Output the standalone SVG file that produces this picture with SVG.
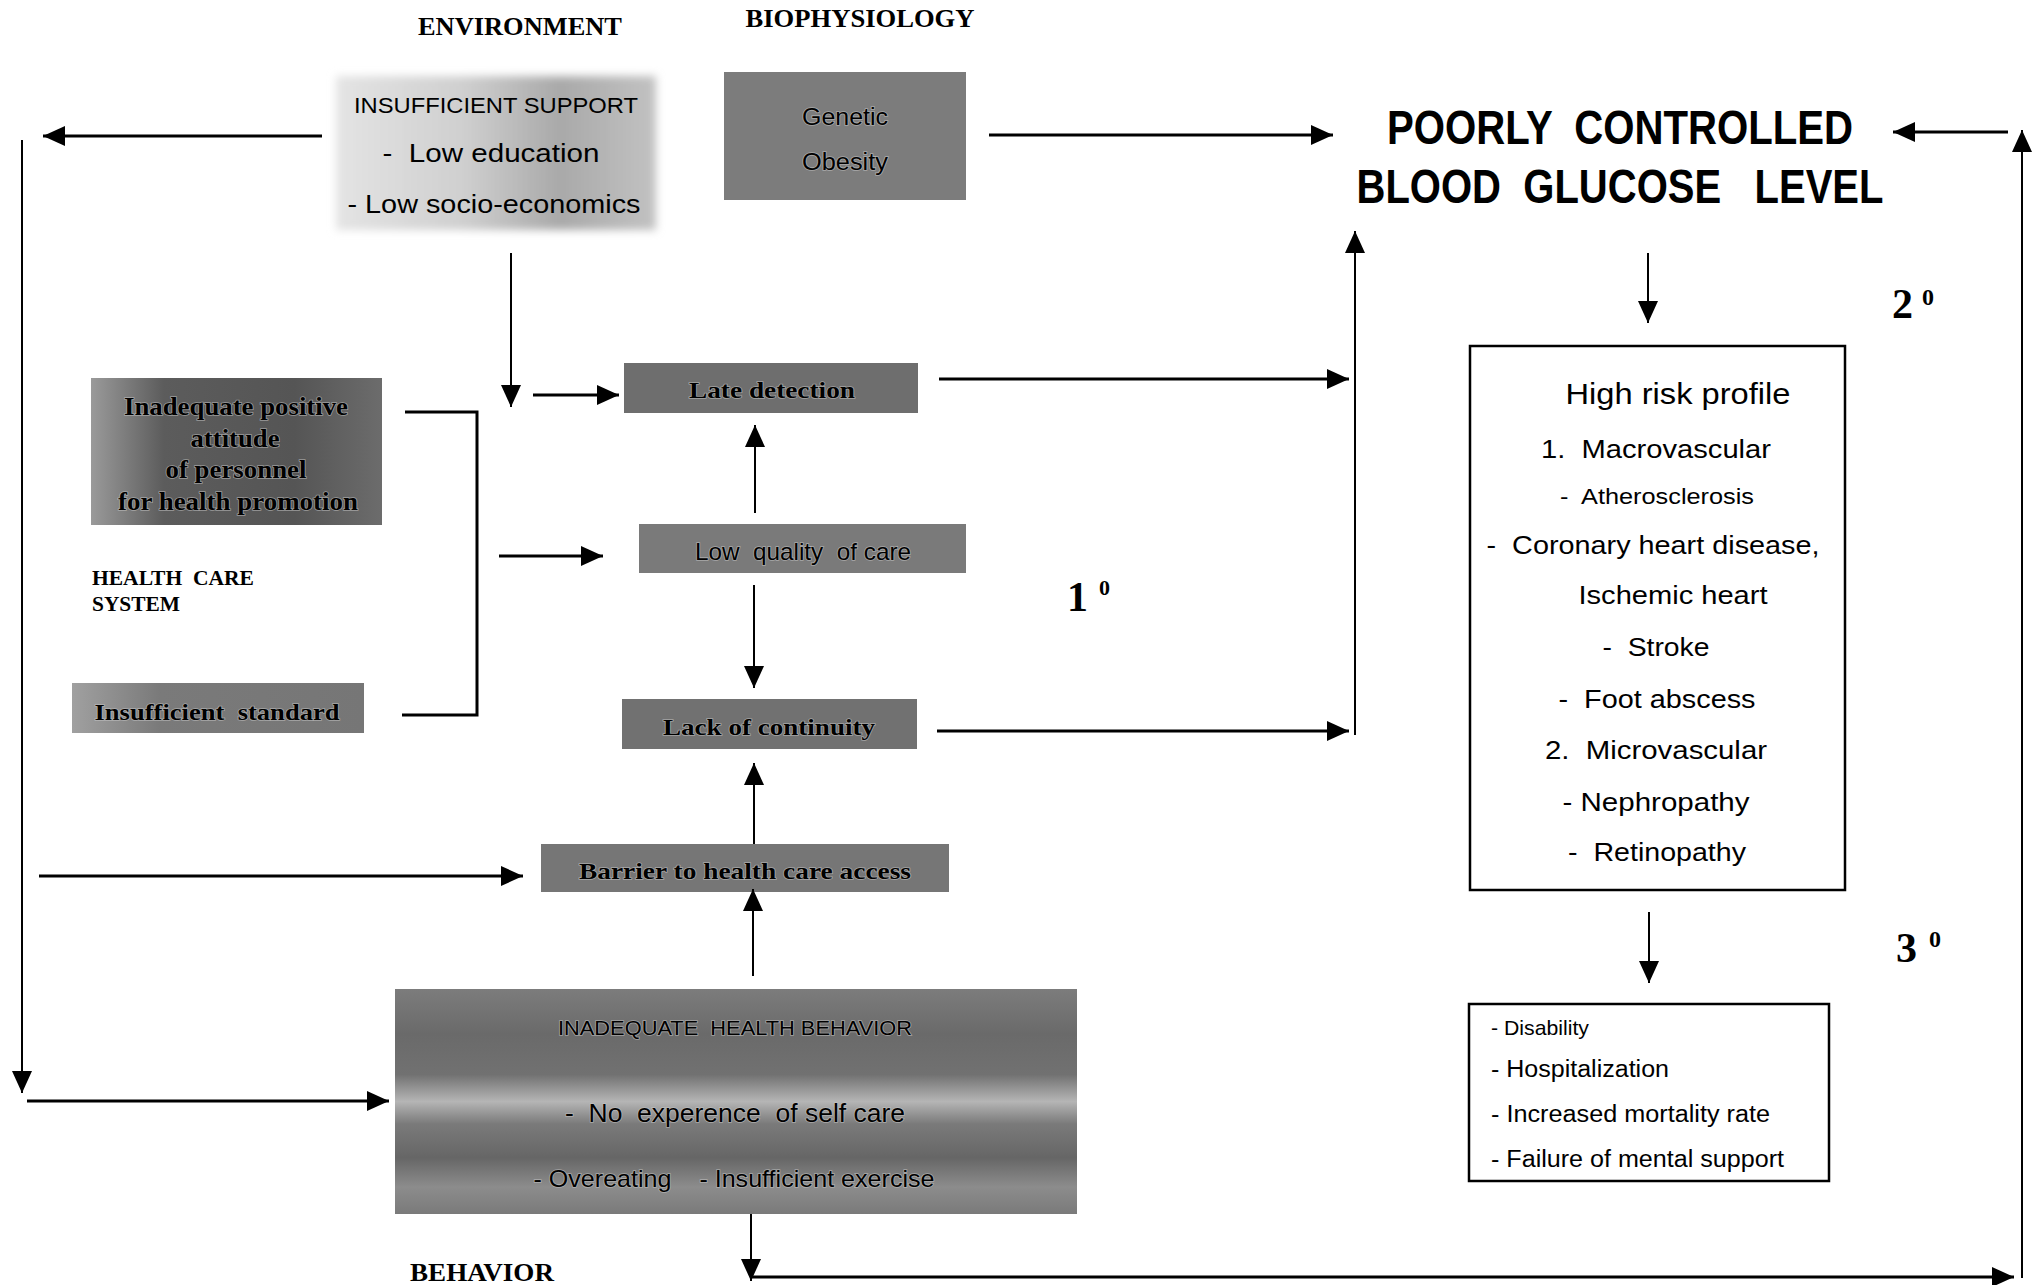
<svg xmlns="http://www.w3.org/2000/svg" width="2033" height="1285" viewBox="0 0 2033 1285">
<style>
text{white-space:pre}
.serifb{font-family:"Liberation Serif","Times New Roman",serif;font-weight:bold;fill:#000}
.sans{font-family:"Liberation Sans",Arial,sans-serif;fill:#000}
.sansb{font-family:"Liberation Sans",Arial,sans-serif;font-weight:bold;fill:#000}
.halo{paint-order:stroke;stroke:#c8c8c8;stroke-width:1.6px;stroke-opacity:0.6}
.ln{stroke:#000;stroke-width:3;fill:none}
.thin{stroke:#000;stroke-width:2;fill:none}
.box{fill:#fff;stroke:#000;stroke-width:2.5}
.m{text-anchor:middle}
</style>
<defs>
<marker id="ah" markerUnits="userSpaceOnUse" markerWidth="24" markerHeight="22" refX="22" refY="10" orient="auto">
<path d="M0,0 L22,10 L0,20 z" fill="#000"/>
</marker>
<linearGradient id="gSupport" x1="0" y1="0" x2="1" y2="0">
<stop offset="0" stop-color="#e4e4e4"/>
<stop offset="0.4" stop-color="#cfcfcf"/>
<stop offset="0.7" stop-color="#a9a9a9"/>
<stop offset="1" stop-color="#c2c2c2"/>
</linearGradient>
<linearGradient id="gAtt" x1="0" y1="0" x2="1" y2="0">
<stop offset="0" stop-color="#9a9a9a"/>
<stop offset="0.25" stop-color="#5c5c5c"/>
<stop offset="0.7" stop-color="#555"/>
<stop offset="1" stop-color="#6c6c6c"/>
</linearGradient>
<linearGradient id="gStd" x1="0" y1="0" x2="1" y2="0">
<stop offset="0" stop-color="#a0a0a0"/>
<stop offset="0.3" stop-color="#7a7a7a"/>
<stop offset="1" stop-color="#767676"/>
</linearGradient>
<linearGradient id="gBeh" x1="0" y1="0" x2="0" y2="1">
<stop offset="0" stop-color="#7c7c7c"/>
<stop offset="0.2" stop-color="#6a6a6a"/>
<stop offset="0.38" stop-color="#717171"/>
<stop offset="0.5" stop-color="#b5b5b5"/>
<stop offset="0.6" stop-color="#7a7a7a"/>
<stop offset="0.75" stop-color="#666"/>
<stop offset="0.88" stop-color="#8c8c8c"/>
<stop offset="1" stop-color="#7a7a7a"/>
</linearGradient>
<filter id="soft" x="-10%" y="-10%" width="120%" height="120%">
<feGaussianBlur stdDeviation="4"/>
</filter>
</defs>

<g id="title-environment"><text class="serifb m" x="520" y="35" font-size="25" textLength="204" lengthAdjust="spacingAndGlyphs">ENVIRONMENT</text></g>
<g id="title-biophysiology"><text class="serifb m" x="860" y="27" font-size="25" textLength="229" lengthAdjust="spacingAndGlyphs">BIOPHYSIOLOGY</text></g>

<g id="node-insufficient-support">
<rect x="336" y="76" width="320" height="154" fill="url(#gSupport)" filter="url(#soft)"/>
<text class="sans m" x="496" y="113" font-size="22" textLength="284" lengthAdjust="spacingAndGlyphs">INSUFFICIENT SUPPORT</text>
<text class="sans m" x="491" y="162" font-size="25" textLength="217" lengthAdjust="spacingAndGlyphs">-  Low education</text>
<text class="sans m" x="494" y="213" font-size="25" textLength="293" lengthAdjust="spacingAndGlyphs">- Low socio-economics</text>
</g>

<g id="node-biophysiology">
<rect x="724" y="72" width="242" height="128" fill="#7c7c7c"/>
<text class="sans m halo" x="845" y="125" font-size="23" textLength="86" lengthAdjust="spacingAndGlyphs">Genetic</text>
<text class="sans m halo" x="845" y="170" font-size="23" textLength="86" lengthAdjust="spacingAndGlyphs">Obesity</text>
</g>

<g id="node-poorly-controlled">
<text class="sansb m" x="1620" y="144" font-size="49" textLength="466" lengthAdjust="spacingAndGlyphs">POORLY  CONTROLLED</text>
<text class="sansb m" x="1620" y="203" font-size="49" textLength="527" lengthAdjust="spacingAndGlyphs">BLOOD  GLUCOSE   LEVEL</text>
</g>

<g id="node-attitude">
<rect x="91" y="378" width="291" height="147" fill="url(#gAtt)"/>
<text class="serifb m halo" x="236" y="415" font-size="25" textLength="224" lengthAdjust="spacingAndGlyphs">Inadequate positive</text>
<text class="serifb m halo" x="235" y="447" font-size="25" textLength="89" lengthAdjust="spacingAndGlyphs">attitude</text>
<text class="serifb m halo" x="236" y="478" font-size="25" textLength="141" lengthAdjust="spacingAndGlyphs">of personnel</text>
<text class="serifb m halo" x="238" y="510" font-size="25" textLength="240" lengthAdjust="spacingAndGlyphs">for health promotion</text>
</g>

<g id="label-health-care-system">
<text class="serifb" x="92" y="585" font-size="20" textLength="162" lengthAdjust="spacingAndGlyphs">HEALTH  CARE</text>
<text class="serifb" x="92" y="611" font-size="20" textLength="88" lengthAdjust="spacingAndGlyphs">SYSTEM</text>
</g>

<g id="node-standard">
<rect x="72" y="683" width="292" height="50" fill="url(#gStd)"/>
<text class="serifb m halo" x="217" y="720" font-size="24" textLength="245" lengthAdjust="spacingAndGlyphs">Insufficient  standard</text>
</g>

<g id="node-late-detection">
<rect x="624" y="363" width="294" height="50" fill="#6e6e6e"/>
<text class="serifb m halo" x="772" y="398" font-size="24" textLength="166" lengthAdjust="spacingAndGlyphs">Late detection</text>
</g>

<g id="node-low-quality">
<rect x="639" y="524" width="327" height="49" fill="#7a7a7a"/>
<text class="sans m halo" x="803" y="560" font-size="24" textLength="216" lengthAdjust="spacingAndGlyphs">Low  quality  of care</text>
</g>

<g id="node-continuity">
<rect x="622" y="699" width="295" height="50" fill="#717171"/>
<text class="serifb m halo" x="769" y="735" font-size="24" textLength="212" lengthAdjust="spacingAndGlyphs">Lack of continuity</text>
</g>

<g id="node-barrier">
<rect x="541" y="844" width="408" height="48" fill="#767676"/>
<text class="serifb m halo" x="745" y="879" font-size="24" textLength="332" lengthAdjust="spacingAndGlyphs">Barrier to health care access</text>
</g>

<g id="node-behavior">
<rect x="395" y="989" width="682" height="225" fill="url(#gBeh)"/>
<text class="sans m halo" x="735" y="1035" font-size="20" textLength="354" lengthAdjust="spacingAndGlyphs">INADEQUATE  HEALTH BEHAVIOR</text>
<text class="sans m halo" x="735" y="1122" font-size="26" textLength="340" lengthAdjust="spacingAndGlyphs">-  No  experence  of self care</text>
<text class="sans m halo" x="734" y="1187" font-size="24" textLength="401" lengthAdjust="spacingAndGlyphs">- Overeating    - Insufficient exercise</text>
</g>

<g id="label-behavior"><text class="serifb" x="410" y="1281" font-size="25" textLength="144" lengthAdjust="spacingAndGlyphs">BEHAVIOR</text></g>

<g id="label-1"><text class="serifb" x="1067" y="611" font-size="42">1</text><text class="serifb" x="1099" y="595" font-size="22">0</text></g>
<g id="label-2"><text class="serifb" x="1892" y="318" font-size="42">2</text><text class="serifb" x="1922" y="305" font-size="24">0</text></g>
<g id="label-3"><text class="serifb" x="1896" y="962" font-size="42">3</text><text class="serifb" x="1929" y="947" font-size="24">0</text></g>

<g id="node-high-risk">
<rect class="box" x="1470" y="346" width="375" height="544"/>
<text class="sans m" x="1678" y="404" font-size="30" textLength="225" lengthAdjust="spacingAndGlyphs">High risk profile</text>
<text class="sans m" x="1656" y="458" font-size="26" textLength="230" lengthAdjust="spacingAndGlyphs">1.  Macrovascular</text>
<text class="sans m" x="1657" y="504" font-size="22" textLength="194" lengthAdjust="spacingAndGlyphs">-  Atherosclerosis</text>
<text class="sans m" x="1653" y="554" font-size="26" textLength="333" lengthAdjust="spacingAndGlyphs">-  Coronary heart disease,</text>
<text class="sans m" x="1673" y="604" font-size="26" textLength="189" lengthAdjust="spacingAndGlyphs">Ischemic heart</text>
<text class="sans m" x="1656" y="656" font-size="26" textLength="107" lengthAdjust="spacingAndGlyphs">-  Stroke</text>
<text class="sans m" x="1657" y="708" font-size="26" textLength="197" lengthAdjust="spacingAndGlyphs">-  Foot abscess</text>
<text class="sans m" x="1656" y="759" font-size="26" textLength="222" lengthAdjust="spacingAndGlyphs">2.  Microvascular</text>
<text class="sans m" x="1656" y="811" font-size="26" textLength="187" lengthAdjust="spacingAndGlyphs">- Nephropathy</text>
<text class="sans m" x="1657" y="861" font-size="26" textLength="178" lengthAdjust="spacingAndGlyphs">-  Retinopathy</text>
</g>

<g id="node-outcomes">
<rect class="box" x="1469" y="1004" width="360" height="177"/>
<text class="sans" x="1491" y="1035" font-size="21" textLength="98" lengthAdjust="spacingAndGlyphs">- Disability</text>
<text class="sans" x="1491" y="1077" font-size="23" textLength="178" lengthAdjust="spacingAndGlyphs">- Hospitalization</text>
<text class="sans" x="1491" y="1122" font-size="23" textLength="279" lengthAdjust="spacingAndGlyphs">- Increased mortality rate</text>
<text class="sans" x="1491" y="1167" font-size="23" textLength="293" lengthAdjust="spacingAndGlyphs">- Failure of mental support</text>
</g>

<g id="connectors">
<line class="ln" x1="322" y1="136" x2="43" y2="136" marker-end="url(#ah)"/>
<line class="thin" x1="22" y1="140" x2="22" y2="1093" marker-end="url(#ah)"/>
<line class="ln" x1="27" y1="1101" x2="389" y2="1101" marker-end="url(#ah)"/>
<line class="ln" x1="39" y1="876" x2="523" y2="876" marker-end="url(#ah)"/>
<line class="ln" x1="989" y1="135" x2="1333" y2="135" marker-end="url(#ah)"/>
<line class="ln" x1="2008" y1="132" x2="1893" y2="132" marker-end="url(#ah)"/>
<line class="thin" x1="2022" y1="1278" x2="2022" y2="130" marker-end="url(#ah)"/>
<line class="ln" x1="751" y1="1277" x2="2014" y2="1277" marker-end="url(#ah)"/>
<line class="thin" x1="751" y1="1214" x2="751" y2="1281" marker-end="url(#ah)"/>
<line class="thin" x1="511" y1="253" x2="511" y2="407" marker-end="url(#ah)"/>
<line class="ln" x1="533" y1="395" x2="619" y2="395" marker-end="url(#ah)"/>
<line class="thin" x1="755" y1="513" x2="755" y2="425" marker-end="url(#ah)"/>
<line class="ln" x1="499" y1="556" x2="603" y2="556" marker-end="url(#ah)"/>
<line class="thin" x1="754" y1="585" x2="754" y2="688" marker-end="url(#ah)"/>
<line class="thin" x1="754" y1="844" x2="754" y2="763" marker-end="url(#ah)"/>
<line class="thin" x1="753" y1="976" x2="753" y2="889" marker-end="url(#ah)"/>
<line class="ln" x1="939" y1="379" x2="1349" y2="379" marker-end="url(#ah)"/>
<line class="ln" x1="937" y1="731" x2="1349" y2="731" marker-end="url(#ah)"/>
<line class="thin" x1="1355" y1="735" x2="1355" y2="231" marker-end="url(#ah)"/>
<line class="thin" x1="1648" y1="253" x2="1648" y2="323" marker-end="url(#ah)"/>
<line class="thin" x1="1649" y1="912" x2="1649" y2="983" marker-end="url(#ah)"/>
<path class="ln" d="M405,412 H477 V715 H402"/>
</g>
</svg>
